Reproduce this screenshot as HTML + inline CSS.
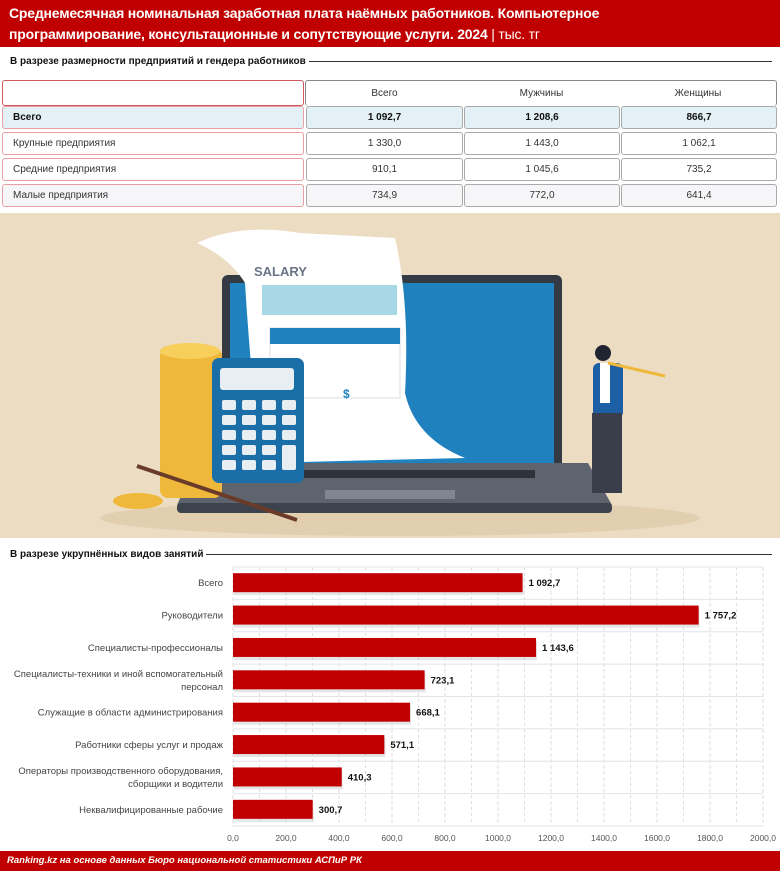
<!DOCTYPE html>
<html><head><meta charset="utf-8">
<style>
*{margin:0;padding:0;box-sizing:border-box}
body{width:780px;height:871px;position:relative;background:#fff;font-family:"Liberation Sans",sans-serif;overflow:hidden}
.abs{position:absolute}
#hdr{left:0;top:0;width:780px;height:47px;background:#c00000;color:#fff;font-weight:bold;font-size:14px;line-height:21px;padding:3px 9px;letter-spacing:-0.2px}
.sec{font-size:10px;font-weight:bold;color:#111;display:flex;align-items:center;white-space:nowrap}
.sec::after{content:"";flex:1;border-top:1px solid #333;margin-left:3px}
.cell{position:absolute;border:1px solid #aaa;border-radius:3px;font-size:10px;color:#333;display:flex;align-items:center;justify-content:center;background:#fff}
.lc{position:absolute;border:1px solid #e9a0a4;border-radius:3px;font-size:10px;color:#333;display:flex;align-items:center;padding-left:10px;background:#fff}
#ftr{left:0;top:851px;width:780px;height:20px;background:#c00000;color:#fff;font-style:italic;font-weight:bold;font-size:9.5px;line-height:20px;padding-left:7px}
</style></head><body>
<div id="hdr" class="abs">Среднемесячная номинальная заработная плата наёмных работников. Компьютерное<br>программирование, консультационные и сопутствующие услуги. 2024 <span style="font-weight:normal">| тыс. тг</span></div>
<div class="abs sec" style="left:10px;top:56px;width:762px">В разрезе размерности предприятий и гендера работников</div>

<div>
<div class="lc" style="left:2px;top:80px;width:302px;height:26px;border-color:#d05a60"></div>
<div class="cell" style="left:305px;top:80px;width:472px;height:26px;border:none;border-top:1px solid #888;border-left:1px solid #888;border-right:1px solid #888"></div>
<div class="cell" style="left:306px;top:81px;width:157px;height:24px;border:none">Всего</div>
<div class="cell" style="left:463px;top:81px;width:157px;height:24px;border:none">Мужчины</div>
<div class="cell" style="left:620px;top:81px;width:156px;height:24px;border:none">Женщины</div>

<div class="lc" style="left:2px;top:106px;width:302px;height:23px;background:#e3f0f5;font-weight:bold;color:#111">Всего</div>
<div class="cell" style="left:306px;top:106px;width:157px;height:23px;background:#e3f0f5;font-weight:bold;color:#111">1 092,7</div>
<div class="cell" style="left:464px;top:106px;width:156px;height:23px;background:#e3f0f5;font-weight:bold;color:#111">1 208,6</div>
<div class="cell" style="left:621px;top:106px;width:156px;height:23px;background:#e3f0f5;font-weight:bold;color:#111">866,7</div>

<div class="lc" style="left:2px;top:132px;width:302px;height:23px">Крупные предприятия</div>
<div class="cell" style="left:306px;top:132px;width:157px;height:23px">1 330,0</div>
<div class="cell" style="left:464px;top:132px;width:156px;height:23px">1 443,0</div>
<div class="cell" style="left:621px;top:132px;width:156px;height:23px">1 062,1</div>

<div class="lc" style="left:2px;top:158px;width:302px;height:23px">Средние предприятия</div>
<div class="cell" style="left:306px;top:158px;width:157px;height:23px">910,1</div>
<div class="cell" style="left:464px;top:158px;width:156px;height:23px">1 045,6</div>
<div class="cell" style="left:621px;top:158px;width:156px;height:23px">735,2</div>

<div class="lc" style="left:2px;top:184px;width:302px;height:23px;background:#f6f6f8">Малые предприятия</div>
<div class="cell" style="left:306px;top:184px;width:157px;height:23px;background:#f6f6f8">734,9</div>
<div class="cell" style="left:464px;top:184px;width:156px;height:23px;background:#f6f6f8">772,0</div>
<div class="cell" style="left:621px;top:184px;width:156px;height:23px;background:#f6f6f8">641,4</div>
</div>

<svg class="abs" style="left:0;top:213px" width="780" height="325">
<rect width="780" height="325" fill="#ecdcc2"/>
<ellipse cx="400" cy="305" rx="300" ry="18" fill="#e2cfb0"/>
<rect x="222" y="62" width="340" height="195" rx="6" fill="#333a44"/>
<rect x="230" y="70" width="324" height="180" fill="#1f82be"/>
<path d="M196 250 L588 250 L612 292 L177 292 Z" fill="#5e646e"/>
<rect x="177" y="290" width="435" height="10" rx="4" fill="#3d434c"/>
<rect x="250" y="257" width="285" height="8" fill="#2e333a"/>
<rect x="325" y="277" width="130" height="9" fill="#80868f"/>
<path d="M197 30 Q240 10 300 20 L395 25 Q410 90 405 180 Q415 225 465 245 L260 250 Q250 150 245 70 Q230 45 197 30 Z" fill="#fff"/>
<text x="254" y="63" font-family="Liberation Sans" font-weight="bold" font-size="13" fill="#6b7486">SALARY</text>
<rect x="262" y="72" width="135" height="30" fill="#a8d8e6"/>
<rect x="270" y="115" width="130" height="70" fill="#fff" stroke="#ddd"/>
<rect x="270" y="115" width="130" height="16" fill="#1f82be"/>
<text x="343" y="185" font-family="Liberation Sans" font-weight="bold" font-size="12" fill="#1f82be">$</text>
<rect x="160" y="135" width="62" height="150" rx="8" fill="#f0b83a"/>
<ellipse cx="190" cy="138" rx="30" ry="8" fill="#f7cf5a"/>
<rect x="212" y="145" width="92" height="125" rx="7" fill="#1a6fa8"/>
<rect x="220" y="155" width="74" height="22" rx="3" fill="#e8eef2"/>
<g fill="#e8eef2">
<rect x="222" y="187" width="14" height="10" rx="2"/><rect x="242" y="187" width="14" height="10" rx="2"/><rect x="262" y="187" width="14" height="10" rx="2"/><rect x="282" y="187" width="14" height="10" rx="2"/>
<rect x="222" y="202" width="14" height="10" rx="2"/><rect x="242" y="202" width="14" height="10" rx="2"/><rect x="262" y="202" width="14" height="10" rx="2"/><rect x="282" y="202" width="14" height="10" rx="2"/>
<rect x="222" y="217" width="14" height="10" rx="2"/><rect x="242" y="217" width="14" height="10" rx="2"/><rect x="262" y="217" width="14" height="10" rx="2"/><rect x="282" y="217" width="14" height="10" rx="2"/>
<rect x="222" y="232" width="14" height="10" rx="2"/><rect x="242" y="232" width="14" height="10" rx="2"/><rect x="262" y="232" width="14" height="10" rx="2"/><rect x="282" y="232" width="14" height="25" rx="2"/>
<rect x="222" y="247" width="14" height="10" rx="2"/><rect x="242" y="247" width="14" height="10" rx="2"/><rect x="262" y="247" width="14" height="10" rx="2"/>
</g>
<ellipse cx="138" cy="288" rx="25" ry="8" fill="#f0b83a"/>
<line x1="137" y1="253" x2="297" y2="307" stroke="#6b3b2a" stroke-width="4"/>
<rect x="593" y="150" width="30" height="55" rx="6" fill="#1d5fa5"/>
<rect x="600" y="150" width="10" height="40" fill="#fff"/>
<rect x="592" y="200" width="30" height="80" fill="#3a3d4a"/>
<circle cx="603" cy="140" r="8" fill="#1f2430"/>
<path d="M608 150 L665 163" stroke="#f0b83a" stroke-width="3"/>
</svg>

<div class="abs sec" style="left:10px;top:549px;width:762px">В разрезе укрупнённых видов занятий</div>
<svg id="chart" class="abs" style="left:0;top:560px" width="780" height="291"></svg>
<div id="ftr" class="abs">Ranking.kz на основе данных Бюро национальной статистики АСПиР РК</div>

<script>
const categories=[["Всего"],["Руководители"],["Специалисты-профессионалы"],["Специалисты-техники и иной вспомогательный","персонал"],["Служащие в области администрирования"],["Работники сферы услуг и продаж"],["Операторы производственного оборудования,","сборщики и водители"],["Неквалифицированные рабочие"]];
const values=[1092.7,1757.2,1143.6,723.1,668.1,571.1,410.3,300.7];
const valueLabels=["1 092,7","1 757,2","1 143,6","723,1","668,1","571,1","410,3","300,7"];
const tickValues=[0,200,400,600,800,1000,1200,1400,1600,1800,2000];
const tickLabels=["0,0","200,0","400,0","600,0","800,0","1000,0","1200,0","1400,0","1600,0","1800,0","2000,0"];
const NS="http://www.w3.org/2000/svg";
const svg=document.getElementById('chart');
const X0=233,X1=763,T=7,B=266;
const xS=v=>X0+(v-0)/2000*(X1-X0);
const band=(B-T)/categories.length;
const yS=i=>T+i*band;
function mk(t,a){const e=document.createElementNS(NS,t);for(const k in a)e.setAttribute(k,a[k]);svg.appendChild(e);return e;}
for(let v=0;v<=2000;v+=100){const l=mk('line',{x1:xS(v),x2:xS(v),y1:T,y2:B,stroke:'#ddd','stroke-dasharray':v%200?'3,3':'4,2'});

}
for(let i=0;i<=categories.length;i++){const l=mk('line',{x1:X0,x2:X1,y1:yS(i),y2:yS(i),stroke:'#e4e4e4'});

}
tickValues.forEach((v,i)=>{const t=mk('text',{x:xS(v),y:B+15,'text-anchor':'middle','font-size':'8.5',fill:'#555','font-family':'Liberation Sans'});t.textContent=tickLabels[i];

});
values.forEach((v,i)=>{const cy=yS(i)+band/2;
const s=mk('rect',{x:X0+1,y:cy-9+2,width:xS(v)-X0,height:19,fill:'#ccc',opacity:'0.5'});


const r=mk('rect',{x:X0,y:cy-10,width:xS(v)-X0,height:19,fill:'#c00000'});


const t=mk('text',{x:xS(v)+6,y:cy+3,'font-size':'9.5','font-weight':'bold',fill:'#111','font-family':'Liberation Sans'});t.textContent=valueLabels[i];


const lines=categories[i];lines.forEach((ln,j)=>{const c=mk('text',{x:223,y:cy+3+(j-(lines.length-1)/2)*13,'text-anchor':'end','font-size':'9.5',fill:'#444','font-family':'Liberation Sans'});c.textContent=ln;

});});
</script>
</body></html>
